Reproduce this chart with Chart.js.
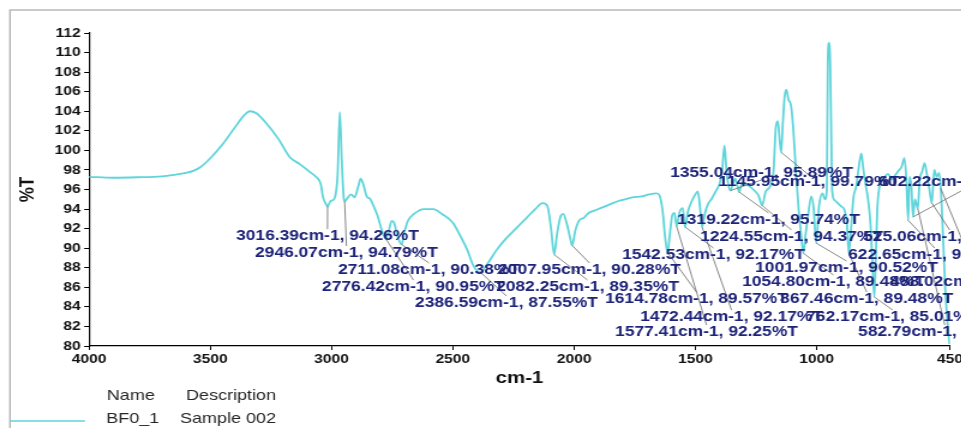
<!DOCTYPE html>
<html>
<head>
<meta charset="utf-8">
<script src="https://cdn.jsdelivr.net/npm/chart.js@4.4.1/dist/chart.umd.min.js"></script>
<style>
  html, body { margin: 0; padding: 0; background: #fff; overflow: hidden; width: 961px; height: 428px; }
  /* the plot is drawn on a narrower canvas and widened 1.2x horizontally */
  #wrap { position: absolute; left: 0; top: 0; width: 820px; height: 428px; transform: scaleX(1.2); transform-origin: 0 0; }
  canvas { display: block; }
</style>
</head>
<body>
<div id="wrap"><canvas id="ftir" width="820" height="428"></canvas></div>
<script>
// FTIR spectrum of sample BF0_1 (wavenumber in cm-1, transmittance in %T)
const wavenumbers = [
  4000, 3900, 3800, 3700, 3650, 3600, 3570, 3540, 3500, 3450, 3400, 3360, 3337, 3310, 3270, 3220,
  3172, 3131, 3090, 3060, 3045, 3035, 3025, 3016.39, 3005, 2995, 2985, 2975, 2966, 2958, 2950, 2946.07,
  2935, 2920, 2905, 2890, 2880, 2870, 2855, 2840, 2825, 2810, 2795, 2776.42, 2765, 2752, 2742, 2730,
  2711.08, 2700, 2685, 2660, 2620, 2580, 2545, 2500, 2470, 2440, 2415, 2386.59, 2360, 2320, 2280, 2240,
  2200, 2160, 2130, 2110, 2095, 2082.25, 2070, 2055, 2045, 2030, 2015, 2007.95, 1995, 1980, 1960, 1940,
  1910, 1880, 1850, 1820, 1790, 1760, 1720, 1690, 1660, 1648, 1635, 1625, 1614.78, 1605, 1595, 1586,
  1577.41, 1565, 1552, 1542.53, 1530, 1515, 1500, 1490, 1480, 1472.44, 1460, 1448, 1434, 1414, 1400, 1390,
  1380, 1372, 1364, 1355.04, 1345, 1336, 1328, 1319.22, 1308, 1290, 1275, 1257, 1240, 1224.55, 1210, 1192,
  1178, 1168, 1160, 1152, 1145.95, 1140, 1132, 1125, 1116, 1105, 1096, 1085, 1074, 1064, 1054.80, 1045,
  1036, 1022, 1012, 1001.97, 990, 976, 966, 958, 954, 949, 944, 940, 936, 926, 913, 900,
  885, 875, 867.46, 858, 848, 837, 826, 816, 807, 798, 788, 778, 770, 762.17, 755, 750,
  741, 730, 720, 705, 690, 675, 660, 650, 638, 630, 622.65, 617, 610, 602.22, 595, 582.79,
  575, 565, 555, 545, 535, 525.06, 515, 505, 495, 488.02, 480, 470, 460, 452
];
const transmittance = [
  97.3, 97.2, 97.25, 97.35, 97.5, 97.7, 97.9, 98.3, 99.2, 100.6, 102.3, 103.6, 104.0, 103.8, 102.8, 101.2,
  99.3, 98.6, 97.8, 97.2, 96.6, 95.2, 94.6, 94.26, 94.8, 94.9, 95.3, 97.5, 103.9, 99.0, 95.2, 94.79,
  95.1, 95.5, 95.2, 96.3, 97.1, 96.6, 95.3, 95.0, 94.2, 93.3, 92.0, 90.95, 91.7, 92.8, 92.6, 91.4,
  90.38, 91.6, 92.8, 93.5, 94.0, 94.0, 93.5, 92.6, 91.3, 89.8, 88.2, 87.55, 88.3, 89.8, 91.0, 92.0,
  93.0, 94.0, 94.6, 94.3, 92.0, 89.35, 91.5, 93.3, 93.5, 92.5, 90.9, 90.28, 91.8, 92.8, 93.1, 93.6,
  93.9, 94.2, 94.5, 94.8, 95.0, 95.2, 95.3, 95.5, 95.6, 95.4, 93.8, 91.2, 89.57, 91.5, 93.4, 93.6,
  92.25, 93.7, 94.1, 92.17, 93.8, 94.8, 95.5, 95.8, 94.0, 92.17, 93.6, 94.5, 95.0, 95.9, 96.6, 97.8,
  100.5, 98.0, 96.5, 95.89, 96.6, 97.1, 96.5, 95.74, 96.6, 96.5, 96.3, 95.9, 95.4, 94.37, 95.8, 96.3,
  97.8, 102.4, 103.0, 100.9, 99.79, 102.5, 105.5, 106.2, 105.2, 104.5, 102.1, 97.7, 93.9, 91.4, 89.48, 91.5,
  93.2, 95.3, 94.0, 90.52, 94.3, 95.6, 95.0, 95.9, 108.9, 111.0, 108.9, 102.1, 95.9, 94.9, 94.6, 94.3,
  93.9, 92.5, 89.48, 92.0, 95.2, 96.3, 98.3, 99.7, 98.0, 96.5, 95.0, 92.5, 88.5, 85.01, 90.0, 93.9,
  96.3, 97.0, 97.3, 97.6, 97.0, 97.5, 98.0, 98.3, 99.2, 97.0, 92.85, 97.3, 96.5, 93.20, 95.0, 94.05,
  97.0, 97.8, 98.7, 97.5, 96.0, 94.62, 98.0, 97.3, 97.7, 96.10, 91.9, 86.0, 82.3, 80.2
];
const xTickValues = [4000, 3500, 3000, 2500, 2000, 1500, 1000, 450];
const yTickValues = [80, 82, 84, 86, 88, 90, 92, 94, 96, 98, 100, 102, 104, 106, 108, 110, 112];

// picked peaks and where their labels sit (label left edge in cm-1, label middle in %T)
const peakWavenumbers = [3016.39, 2946.07, 2711.08, 2776.42, 2386.59, 2007.95, 2082.25, 1614.78,
  1472.44, 1577.41, 1542.53, 1319.22, 1224.55, 1355.04, 1145.95, 1001.97, 1054.80, 867.46, 762.17,
  582.79, 622.65, 525.06, 602.22, 488.02];
const labelWavenumbers = [3393.8, 3315.5, 2973.2, 3039.2, 2655.7, 2313.4, 2321.6, 1872.2,
  1727.8, 1830.9, 1802.1, 1575.3, 1480.4, 1604.1, 1406.2, 1253.6, 1307.2, 1150.5, 1043.3,
  828.9, 870.1, 808.2, 746.4, 696.9];
const labelLevels = [91.24, 89.51, 87.77, 86.03, 84.39, 87.77, 86.03, 84.80,
  82.96, 81.43, 89.30, 92.88, 91.14, 97.69, 96.76, 87.97, 86.54, 84.80, 82.96,
  81.43, 89.30, 91.14, 96.76, 86.54];

const FONT = "'Liberation Sans', Arial, sans-serif";
const LINE_COLOR = '#5fd5da';
const LABEL_COLOR = '#1d2378';

const points = wavenumbers.map((w, i) => ({ x: w, y: transmittance[i] }));

const frameAndNotes = {
  id: 'frameAndNotes',
  beforeDraw(chart) {
    const ctx = chart.ctx;
    ctx.save();
    ctx.strokeStyle = '#b4b4b4';
    ctx.lineWidth = 1.4;
    ctx.strokeRect(8.3, 10, chart.width + 20, chart.height + 20);
    ctx.restore();
  },
  afterDraw(chart) {
    const ctx = chart.ctx;
    const xs = chart.scales.x, ys = chart.scales.y;
    ctx.save();
    ctx.font = 'bold 14.5px ' + FONT;
    const notes = peakWavenumbers.map((w, i) => {
      const t = transmittance[wavenumbers.indexOf(w)];
      const text = w.toFixed(2) + 'cm-1, ' + t.toFixed(2) + '%T';
      const px = xs.getPixelForValue(w), py = ys.getPixelForValue(t);
      const lx = xs.getPixelForValue(labelWavenumbers[i]);
      const ly = ys.getPixelForValue(labelLevels[i]);
      const tw = ctx.measureText(text).width;
      return { text, px, py, lx, ly, tw };
    });
    // leader lines from each peak to its label
    ctx.strokeStyle = '#6a6a6a';
    ctx.lineWidth = 0.8;
    notes.forEach(n => {
      const ey = n.ly > n.py ? n.ly - 7 : n.ly + 7;
      ctx.beginPath();
      ctx.moveTo(n.px, n.py);
      ctx.lineTo(n.lx + n.tw / 2, ey);
      ctx.stroke();
    });
    ctx.fillStyle = LABEL_COLOR;
    ctx.textBaseline = 'middle';
    ctx.textAlign = 'left';
    notes.forEach(n => ctx.fillText(n.text, n.lx, n.ly));

    // series key below the axis
    ctx.strokeStyle = LINE_COLOR;
    ctx.lineWidth = 1.6;
    ctx.beginPath();
    ctx.moveTo(8.3, 421);
    ctx.lineTo(70.8, 421);
    ctx.stroke();
    ctx.fillStyle = '#262626';
    ctx.font = '15px ' + FONT;
    ctx.fillText('Name', 89, 396);
    ctx.fillText('Description', 155, 396);
    ctx.fillText('BF0_1', 88.5, 419);
    ctx.fillText('Sample 002', 150, 419);
    ctx.restore();
  }
};

new Chart(document.getElementById('ftir'), {
  type: 'line',
  data: {
    datasets: [{
      data: points,
      borderColor: LINE_COLOR,
      borderWidth: 1.8,
      pointRadius: 0,
      fill: false,
      cubicInterpolationMode: 'monotone'
    }]
  },
  options: {
    responsive: false,
    animation: false,
    devicePixelRatio: 1,
    layout: { padding: { left: 8, top: 33, right: 28.33, bottom: 39.8 } },
    plugins: { legend: { display: false }, tooltip: { enabled: false } },
    scales: {
      x: {
        type: 'linear',
        reverse: true,
        min: 450,
        max: 4000,
        afterBuildTicks: s => { s.ticks = xTickValues.map(v => ({ value: v })); },
        afterFit: s => { s.height = 42.2; },
        grid: { display: true, drawOnChartArea: false, drawTicks: true, tickLength: 4, color: '#000' },
        border: { display: true, color: '#000', width: 1.2 },
        ticks: {
          color: '#111', autoSkip: false, maxRotation: 0, padding: 2,
          font: { family: FONT, size: 13, weight: 'bold' },
          callback: v => String(v)
        },
        title: {
          display: true, text: 'cm-1', color: '#111',
          font: { family: FONT, size: 17, weight: 'bold' },
          padding: { top: 0, bottom: 0 }
        }
      },
      y: {
        type: 'linear',
        min: 80,
        max: 112,
        afterBuildTicks: s => { s.ticks = yTickValues.map(v => ({ value: v })); },
        afterFit: s => { s.width = 66.17; },
        grid: { display: true, drawOnChartArea: false, drawTicks: true, tickLength: 4, color: '#000' },
        border: { display: true, color: '#000', width: 1.2 },
        ticks: {
          color: '#111', padding: 3,
          font: { family: FONT, size: 13, weight: 'bold' },
          callback: v => String(v)
        },
        title: {
          display: true, text: '%T', color: '#111',
          font: { family: FONT, size: 17, weight: 'bold' },
          padding: { top: 5, bottom: 0 }
        }
      }
    }
  },
  plugins: [frameAndNotes]
});
</script>
</body>
</html>
